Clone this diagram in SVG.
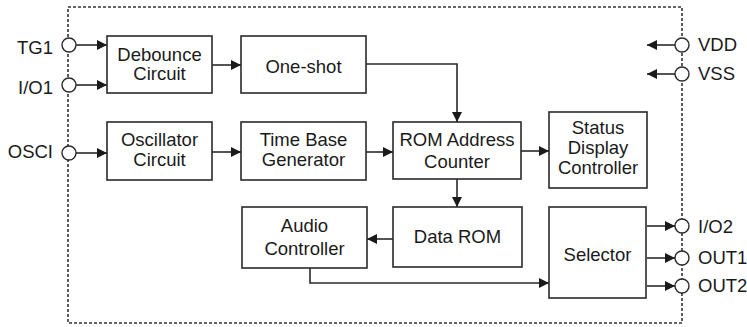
<svg xmlns="http://www.w3.org/2000/svg" width="747" height="327" viewBox="0 0 747 327">
<style>
.box{fill:#fff;stroke:#2a2a2a;stroke-width:1.6}
.t{font-family:"Liberation Sans",Arial,sans-serif;font-size:18.5px;fill:#1a1a1a}
.c{text-anchor:middle}
.e{text-anchor:end}
.ln{fill:none;stroke:#2a2a2a;stroke-width:1.6}
.pin{fill:#fff;stroke:#2a2a2a;stroke-width:1.4}
.border{fill:none;stroke:#333;stroke-width:1.6;stroke-dasharray:3 2}
</style>
<defs>
<marker id="ah" viewBox="0 0 10 10" refX="10" refY="5" markerWidth="10" markerHeight="10" markerUnits="userSpaceOnUse" orient="auto">
<path d="M0,0 L10,5 L0,10 Z" fill="#1a1a1a"/>
</marker>
</defs>
<rect class="border" x="68" y="7" width="614" height="316"/>
<g id="connectors">
<line class="ln" x1="76" y1="45" x2="107" y2="45" marker-end="url(#ah)"/>
<line class="ln" x1="76" y1="85" x2="107" y2="85" marker-end="url(#ah)"/>
<line class="ln" x1="76" y1="153" x2="107" y2="153" marker-end="url(#ah)"/>
<line class="ln" x1="212" y1="65" x2="241" y2="65" marker-end="url(#ah)"/>
<polyline class="ln" points="366,64 457,64 457,122" marker-end="url(#ah)"/>
<line class="ln" x1="212" y1="152" x2="241" y2="152" marker-end="url(#ah)"/>
<line class="ln" x1="366" y1="152" x2="393" y2="152" marker-end="url(#ah)"/>
<line class="ln" x1="521" y1="151" x2="549" y2="151" marker-end="url(#ah)"/>
<line class="ln" x1="457" y1="179" x2="457" y2="207" marker-end="url(#ah)"/>
<line class="ln" x1="393" y1="239" x2="367" y2="239" marker-end="url(#ah)"/>
<polyline class="ln" points="310,268 310,283 549,283" marker-end="url(#ah)"/>
<line class="ln" x1="647" y1="226" x2="675" y2="226" marker-end="url(#ah)"/>
<line class="ln" x1="647" y1="258" x2="675" y2="258" marker-end="url(#ah)"/>
<line class="ln" x1="647" y1="286" x2="675" y2="286" marker-end="url(#ah)"/>
<line class="ln" x1="675" y1="45" x2="647" y2="45" marker-end="url(#ah)"/>
<line class="ln" x1="675" y1="74" x2="647" y2="74" marker-end="url(#ah)"/>
</g>
<g id="pin-TG1"><circle class="pin" cx="69" cy="45" r="7"/><text class="t e" x="53" y="54">TG1</text></g>
<g id="pin-IO1"><circle class="pin" cx="69" cy="85" r="7"/><text class="t e" x="53" y="94">I/O1</text></g>
<g id="pin-OSCI"><circle class="pin" cx="69" cy="153" r="7"/><text class="t e" x="53" y="158">OSCI</text></g>
<g id="pin-VDD"><circle class="pin" cx="682" cy="45" r="7"/><text class="t" x="698" y="51">VDD</text></g>
<g id="pin-VSS"><circle class="pin" cx="682" cy="74" r="7"/><text class="t" x="698" y="80">VSS</text></g>
<g id="pin-IO2"><circle class="pin" cx="682" cy="226" r="7"/><text class="t" x="698" y="233">I/O2</text></g>
<g id="pin-OUT1"><circle class="pin" cx="682" cy="258" r="7"/><text class="t" x="698" y="264">OUT1</text></g>
<g id="pin-OUT2"><circle class="pin" cx="682" cy="286" r="7"/><text class="t" x="698" y="292">OUT2</text></g>
<g id="debounce"><rect class="box" x="107" y="36" width="105" height="57"/><text class="t c" x="159.5" y="61">Debounce</text><text class="t c" x="159.5" y="80">Circuit</text></g>
<g id="oneshot"><rect class="box" x="241" y="36" width="125" height="57"/><text class="t c" x="303.5" y="73">One-shot</text></g>
<g id="oscillator"><rect class="box" x="107" y="122" width="105" height="58"/><text class="t c" x="159.5" y="146">Oscillator</text><text class="t c" x="159.5" y="166">Circuit</text></g>
<g id="timebase"><rect class="box" x="241" y="122" width="125" height="58"/><text class="t c" x="303.5" y="146">Time Base</text><text class="t c" x="303.5" y="166">Generator</text></g>
<g id="romaddr"><rect class="box" x="393" y="122" width="128" height="57"/><text class="t c" x="457" y="146">ROM Address</text><text class="t c" x="457" y="168">Counter</text></g>
<g id="status"><rect class="box" x="549" y="112" width="98" height="76"/><text class="t c" x="598" y="134">Status</text><text class="t c" x="598" y="154">Display</text><text class="t c" x="598" y="174">Controller</text></g>
<g id="audio"><rect class="box" x="242" y="207" width="125" height="61"/><text class="t c" x="304.5" y="232">Audio</text><text class="t c" x="304.5" y="255">Controller</text></g>
<g id="dataROM"><rect class="box" x="393" y="207" width="129" height="60"/><text class="t c" x="457.5" y="243">Data ROM</text></g>
<g id="selector"><rect class="box" x="549" y="207" width="97" height="91"/><text class="t c" x="597.5" y="261">Selector</text></g>
</svg>
